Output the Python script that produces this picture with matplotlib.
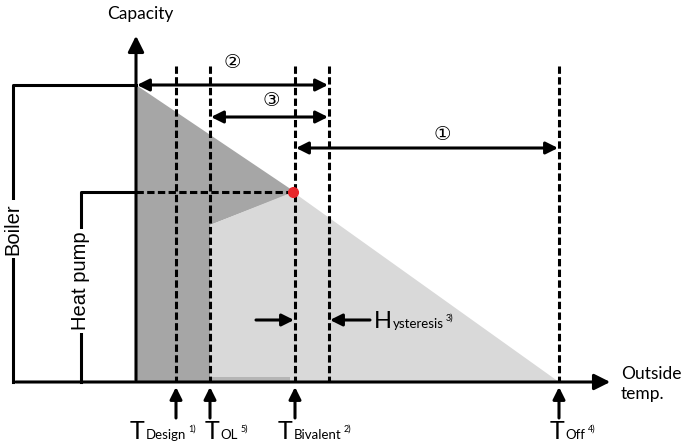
import matplotlib.pyplot as plt

plt.rcParams['font.family'] = ['Lato', 'DejaVu Sans']

# x positions (px) of the temperature markers
t_names = ['Design', 'OL', 'Bivalent', 'Off']
t_notes = ['1)', '5)', '2)', '4)']
t_x = [176, 210, 295, 559]
t_label_x = [130, 205, 278, 550]
hyst_x = 329

axis_x = 136          # capacity axis
axis_y = 382          # outside temp axis
cap_top = 85          # capacity at design temp
hp_y = 192            # heat pump capacity at bivalent point
hp_start = 225        # heat pump capacity at T_OL

fig = plt.figure(figsize=(6.83, 4.46), dpi=100)
ax = fig.add_axes([0, 0, 1, 1])
ax.set_xlim(0, 683)
ax.set_ylim(446, 0)
ax.axis('off')

dark = '#a6a6a6'
light = '#d9d9d9'
lw = 2.2
dash = (0, (2.4, 1.1))

# shaded areas
ax.fill([axis_x, t_x[2], t_x[1], t_x[1], axis_x],
        [cap_top, hp_y, hp_start, axis_y, axis_y], color=dark, lw=0)
ax.fill([t_x[1], t_x[2] - 2, t_x[3], t_x[1]],
        [hp_start, hp_y, axis_y, axis_y], color=light, lw=0)
ax.fill([t_x[1], 290, 290, t_x[1]], [377, 377, axis_y, axis_y], color='#b5b5b5', lw=0)

# dashed verticals
for x in t_x + [hyst_x]:
    ax.plot([x, x], [66, axis_y], color='black', lw=lw, ls=dash)

# axes with arrows
ax.annotate('', xy=(613, axis_y), xytext=(13, axis_y),
            arrowprops=dict(arrowstyle='-|>', color='black', lw=lw, mutation_scale=24))
ax.annotate('', xy=(axis_x, 33), xytext=(axis_x, axis_y + 1),
            arrowprops=dict(arrowstyle='-|>', color='black', lw=lw, mutation_scale=24))

# boiler bracket
ax.plot([axis_x, 13, 13], [cap_top, cap_top, axis_y], color='black', lw=lw)
ax.text(13, 229, 'Boiler', rotation=90, ha='center', va='center', fontsize=14.5,
        family='Liberation Sans', bbox=dict(facecolor='white', edgecolor='none', pad=2))
# heat pump bracket
ax.plot([axis_x, 81, 81], [hp_y, hp_y, axis_y], color='black', lw=lw)
ax.plot([axis_x, t_x[2]], [hp_y, hp_y], color='black', lw=lw, ls=dash)
ax.text(81, 281, 'Heat pump', rotation=90, ha='center', va='center', fontsize=14.5,
        family='Liberation Sans', bbox=dict(facecolor='white', edgecolor='none', pad=2))
ax.plot(t_x[2] - 2, hp_y, 'o', color='#e8262a', ms=7, zorder=5)

# range arrows
arr = dict(arrowstyle='<|-|>', color='black', lw=lw, mutation_scale=18, shrinkA=0, shrinkB=0)
ax.annotate('', xy=(hyst_x - 1, cap_top), xytext=(axis_x + 1, cap_top), arrowprops=arr)
ax.annotate('', xy=(hyst_x - 1, 117), xytext=(t_x[1] + 1, 117), arrowprops=arr)
ax.annotate('', xy=(t_x[3] - 1, 148), xytext=(t_x[2] + 1, 148), arrowprops=arr)
ax.text(232, 62, '②', ha='center', va='center', fontsize=14, family='DejaVu Sans')
ax.text(271, 101, '③', ha='center', va='center', fontsize=14, family='DejaVu Sans')
ax.text(442, 135, '①', ha='center', va='center', fontsize=14, family='DejaVu Sans')

# hysteresis arrows
one = dict(arrowstyle='-|>', color='black', lw=lw, mutation_scale=18, shrinkA=0, shrinkB=0)
ax.annotate('', xy=(t_x[2] - 1, 320), xytext=(256, 320), arrowprops=one)
ax.annotate('', xy=(hyst_x + 1, 320), xytext=(370, 320), arrowprops=one)

fig.canvas.draw()
inv = ax.transData.inverted()

def right_edge(t):
    bb = t.get_window_extent()
    return inv.transform((bb.x1, bb.y1))[0]

def label(x, y, big, small, note, big_size, small_size):
    t = ax.text(x, y, big, fontsize=big_size, va='baseline', ha='left')
    s = ax.text(right_edge(t) + 1, y, small, fontsize=small_size, va='baseline', ha='left')
    ax.text(right_edge(s) + 2, y - 7, note, fontsize=6.5, va='baseline', ha='left')

label(374, 328, 'H', 'ysteresis', '3)', 17, 9.5)

# temperature arrows and labels
for x, lx, name, note in zip(t_x, t_label_x, t_names, t_notes):
    ax.annotate('', xy=(x, 387), xytext=(x, 418), arrowprops=one)
    label(lx, 439, 'T', name, note, 18, 9.5)

ax.text(140, 14, 'Capacity', ha='center', va='center', fontsize=12.5)
ax.text(621, 384, 'Outside\ntemp.', ha='left', va='center', fontsize=12.5, linespacing=1.25)

plt.savefig('out.png', dpi=100)
